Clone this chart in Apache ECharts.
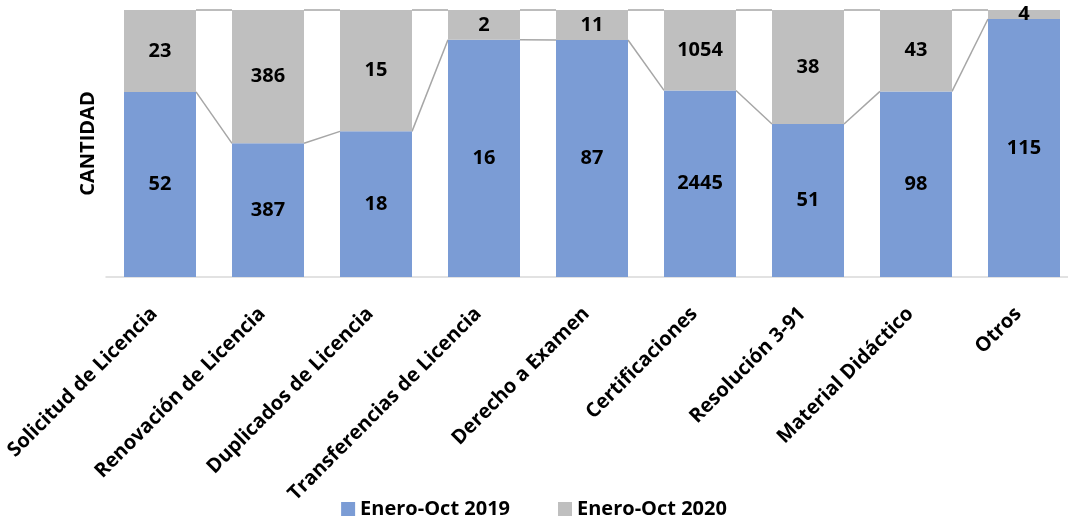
<!DOCTYPE html>
<html>
<head>
<meta charset="utf-8">
<script src="https://cdn.jsdelivr.net/npm/echarts@6/dist/echarts.min.js"></script>
<style>
  html, body { margin: 0; padding: 0; background: #fff; }
  #chart { width: 1068px; height: 524px; }
</style>
</head>
<body>
<div id="chart"></div>
<script>
// categorías y valores
const categories = ['Solicitud de Licencia', 'Renovación de Licencia', 'Duplicados de Licencia',
  'Transferencias de Licencia', 'Derecho a Examen', 'Certificaciones', 'Resolución 3-91',
  'Material Didáctico', 'Otros'];
const values2019 = [52, 387, 18, 16, 87, 2445, 51, 98, 115];
const values2020 = [23, 386, 15, 2, 11, 1054, 38, 43, 4];
const seriesNames = ['Enero-Oct 2019', 'Enero-Oct 2020'];

// 100% apilado
const totals = values2019.map((v, i) => v + values2020[i]);
const share2019 = values2019.map((v, i) => v / totals[i]);
const share2020 = values2020.map((v, i) => v / totals[i]);
const topLevel = totals.map(() => 1);

const chart = echarts.init(document.getElementById('chart'), null, { renderer: 'canvas' });

const FONT = 'Open Sans';
const labelStyle = { fontFamily: FONT, fontWeight: 'bold', fontSize: 20, color: '#000' };

let option = {
  animation: false,
  grid: {
    left: 106,
    top: 10,
    width: 972,
    height: 267,
    outerBoundsMode: 'none'
  },
  legend: {
    data: seriesNames,
    bottom: 0,
    left: 'center',
    icon: 'rect',
    itemWidth: 14,
    itemHeight: 14,
    itemGap: 48,
    textStyle: labelStyle
  },
  xAxis: {
    type: 'category',
    data: categories,
    axisLine: { lineStyle: { color: '#D9D9D9', width: 1.5 } },
    axisTick: { show: false },
    axisLabel: Object.assign({ rotate: 45, interval: 0, margin: 28, padding: [0, 8, 0, 0] }, labelStyle)
  },
  yAxis: {
    type: 'value',
    min: 0,
    max: 1,
    axisLabel: { show: false },
    axisLine: { show: false },
    axisTick: { show: false },
    splitLine: { show: false },
    name: 'CANTIDAD',
    nameLocation: 'middle',
    nameGap: 8,
    nameTextStyle: labelStyle
  },
  series: [{
    name: seriesNames[0],
    type: 'bar',
    stack: 'total',
    barWidth: 72,
    data: share2019,
    itemStyle: { color: '#7B9CD5' },
    label: Object.assign({
      show: true,
      position: 'inside',
      formatter: p => values2019[p.dataIndex]
    }, labelStyle)
  }, {
    name: seriesNames[1],
    type: 'bar',
    stack: 'total',
    barWidth: 72,
    data: share2020,
    itemStyle: { color: '#BFBFBF' },
    label: Object.assign({
      show: true,
      position: 'inside',
      formatter: p => values2020[p.dataIndex]
    }, labelStyle)
  }, {
    // líneas de serie entre barras
    type: 'custom',
    silent: true,
    data: categories.slice(0, -1).map((c, i) => [i, share2019[i]]),
    renderItem(params, api) {
      const i = params.dataIndex;
      const bw = api.size([1, 0])[0] * 2 / 3;
      const children = [share2019, topLevel].map(level => {
        const a = api.coord([i, level[i]]);
        const b = api.coord([i + 1, level[i + 1]]);
        return {
          type: 'line',
          shape: { x1: a[0] + bw / 2, y1: a[1], x2: b[0] - bw / 2, y2: b[1] },
          style: { stroke: '#A6A6A6', lineWidth: 1.5 }
        };
      });
      return { type: 'group', children };
    }
  }]
};
chart.setOption(option);
</script>
</body>
</html>
